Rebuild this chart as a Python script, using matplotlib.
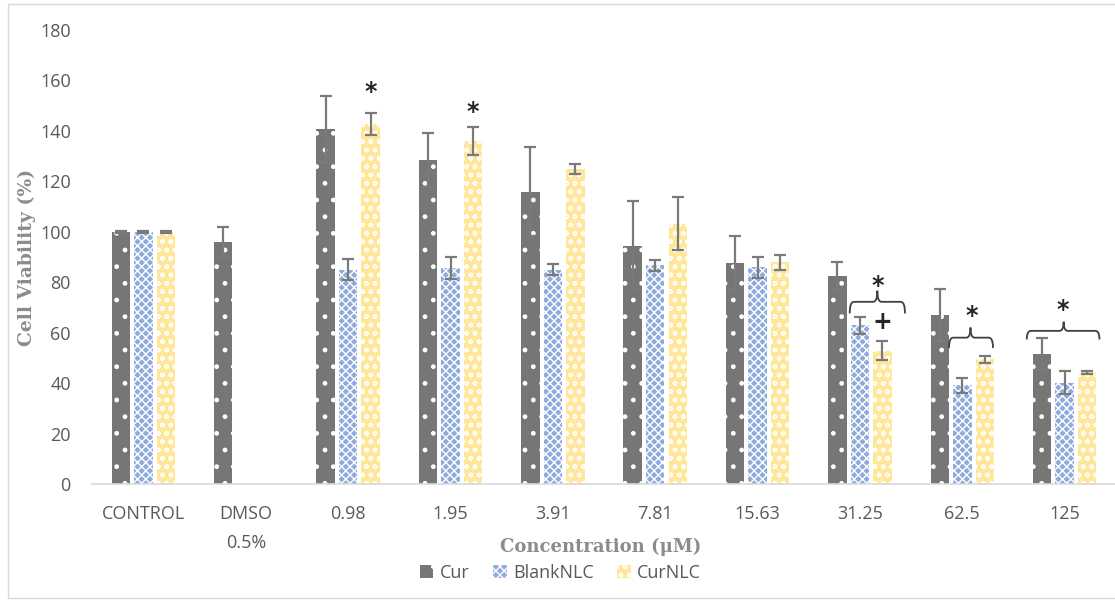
import numpy as np
import matplotlib.pyplot as plt
from matplotlib.path import Path
from matplotlib.patches import PathPatch, Rectangle

categories = ['CONTROL', 'DMSO\n0.5%', '0.98', '1.95', '3.91', '7.81',
              '15.63', '31.25', '62.5', '125']

cur = [100, 96, 140.6, 128.5, 116, 94.6, 87.5, 82.6, 67.0, 51.7]
cur_err = [0.5, 6, 13.2, 10.8, 17.5, 17.5, 11, 5.5, 10.3, 6.3]

blank = [100, np.nan, 85.1, 85.7, 85.1, 86.7, 85.9, 63.0, 39.3, 40.3]
blank_err = [0.5, np.nan, 4.3, 4.2, 2, 2, 4.2, 3.3, 3, 4.4]

curnlc = [100, np.nan, 142.7, 136.1, 124.8, 103.3, 87.9, 52.9, 49.6, 44.3]
curnlc_err = [0.5, np.nan, 4.5, 5.6, 2, 10.4, 3, 3.8, 1.4, 0.5]

series = ['Cur', 'BlankNLC', 'CurNLC']

TEXT = '#595959'
ERR = '#7a7a7a'

plt.rcParams['hatch.linewidth'] = 1.0
plt.rcParams['font.family'] = ['Open Sans', 'DejaVu Sans']

fig = plt.figure(figsize=(11.15, 6.02), dpi=100)
ax = fig.add_axes([0.0822, 0.1955, 0.918, 0.7547])

x = np.arange(len(categories))
step = 0.22
width = 0.18

styles = [
    dict(color='#767676', hatch='.'),
    dict(color='#8faadc', hatch='xxxx'),
    dict(color='#ffe699', hatch='oo'),
]
values = [cur, blank, curnlc]
errors = [cur_err, blank_err, curnlc_err]

for k, (vals, errs, st, name) in enumerate(zip(values, errors, styles, series)):
    pos = x + (k - 1) * step
    ax.bar(pos, vals, width, facecolor=st['color'], edgecolor='white',
           hatch=st['hatch'], linewidth=0, label=name, zorder=2)
    ax.errorbar(pos, vals, yerr=errs, fmt='none', ecolor=ERR, elinewidth=1.6,
                capsize=4.5, capthick=1.6, zorder=3)


def brace(ax, x0, x1, xc, y_line, y_end, y_tip, d=0.04):
    verts = [(x0, y_end), (x0, y_line), (x0 + d, y_line),
             (xc - d, y_line), (xc, y_line), (xc, y_tip),
             (xc, y_line), (xc + d, y_line),
             (x1 - d, y_line), (x1, y_line), (x1, y_end)]
    codes = [Path.MOVETO, Path.CURVE3, Path.CURVE3,
             Path.LINETO, Path.CURVE3, Path.CURVE3,
             Path.CURVE3, Path.CURVE3,
             Path.LINETO, Path.CURVE3, Path.CURVE3]
    ax.add_patch(PathPatch(Path(verts, codes), fill=False, edgecolor='#404040',
                           linewidth=1.3, zorder=4))


star_kw = dict(ha='center', va='center', fontsize=17, fontweight='bold',
               color='#262626', family='DejaVu Sans', zorder=5)

# significance marks above CurNLC bars
ax.text(2 + step, 155.5, '*', **star_kw)
ax.text(3 + step, 147.5, '*', **star_kw)

# grouped comparisons at the high concentrations
brace(ax, 7 - 0.10, 7 + 0.44, 7 + 0.17, 72.3, 67.7, 76.7)
ax.text(7 + 0.17, 78.5, '*', **star_kw)
ax.text(7 + 0.22, 64.5, '+', **star_kw)

brace(ax, 8 - 0.13, 8 + 0.30, 8 + 0.08, 58.1, 54.0, 62.1)
ax.text(8 + 0.09, 66.5, '*', **star_kw)

brace(ax, 9 - 0.37, 9 + 0.34, 9 - 0.01, 60.8, 57.4, 64.4)
ax.text(9 - 0.02, 69.0, '*', **star_kw)

ax.set_xlim(-0.506, len(categories) - 0.506)
ax.set_ylim(0, 180)
ax.set_yticks(np.arange(0, 181, 20))
ax.set_xticks(x)
ax.set_xticklabels(categories, linespacing=1.75)
ax.tick_params(axis='both', length=0, labelsize=13, labelcolor=TEXT)
ax.tick_params(axis='y', pad=15)
ax.tick_params(axis='x', pad=15)

for side in ['top', 'right', 'left']:
    ax.spines[side].set_visible(False)
ax.spines['bottom'].set_color('#d9d9d9')
ax.spines['bottom'].set_linewidth(1.2)

ax.set_ylabel('Cell Viability (%)', family='DejaVu Serif', fontweight='bold',
              fontsize=13.5, color='#8c8c8c')
ax.yaxis.set_label_coords(-0.054, 0.5)
ax.set_xlabel('Concentration (\u03bcM)', family='DejaVu Serif',
              fontweight='bold', fontsize=13, color='#8c8c8c')
ax.xaxis.set_label_coords(0.497, -0.118)

leg = ax.legend(loc='center', bbox_to_anchor=(0.458, -0.195), ncol=3,
                frameon=False, fontsize=13, handlelength=0.75,
                handleheight=0.75, handletextpad=0.35, columnspacing=1.3)
for t in leg.get_texts():
    t.set_color(TEXT)

# chart area border
fig.patches.append(Rectangle((8 / 1115, 4 / 602), 1.1, 1 - 8 / 602,
                             transform=fig.transFigure, fill=False,
                             edgecolor='#d9d9d9', linewidth=1.0))

fig.savefig('out.png', dpi=100)
